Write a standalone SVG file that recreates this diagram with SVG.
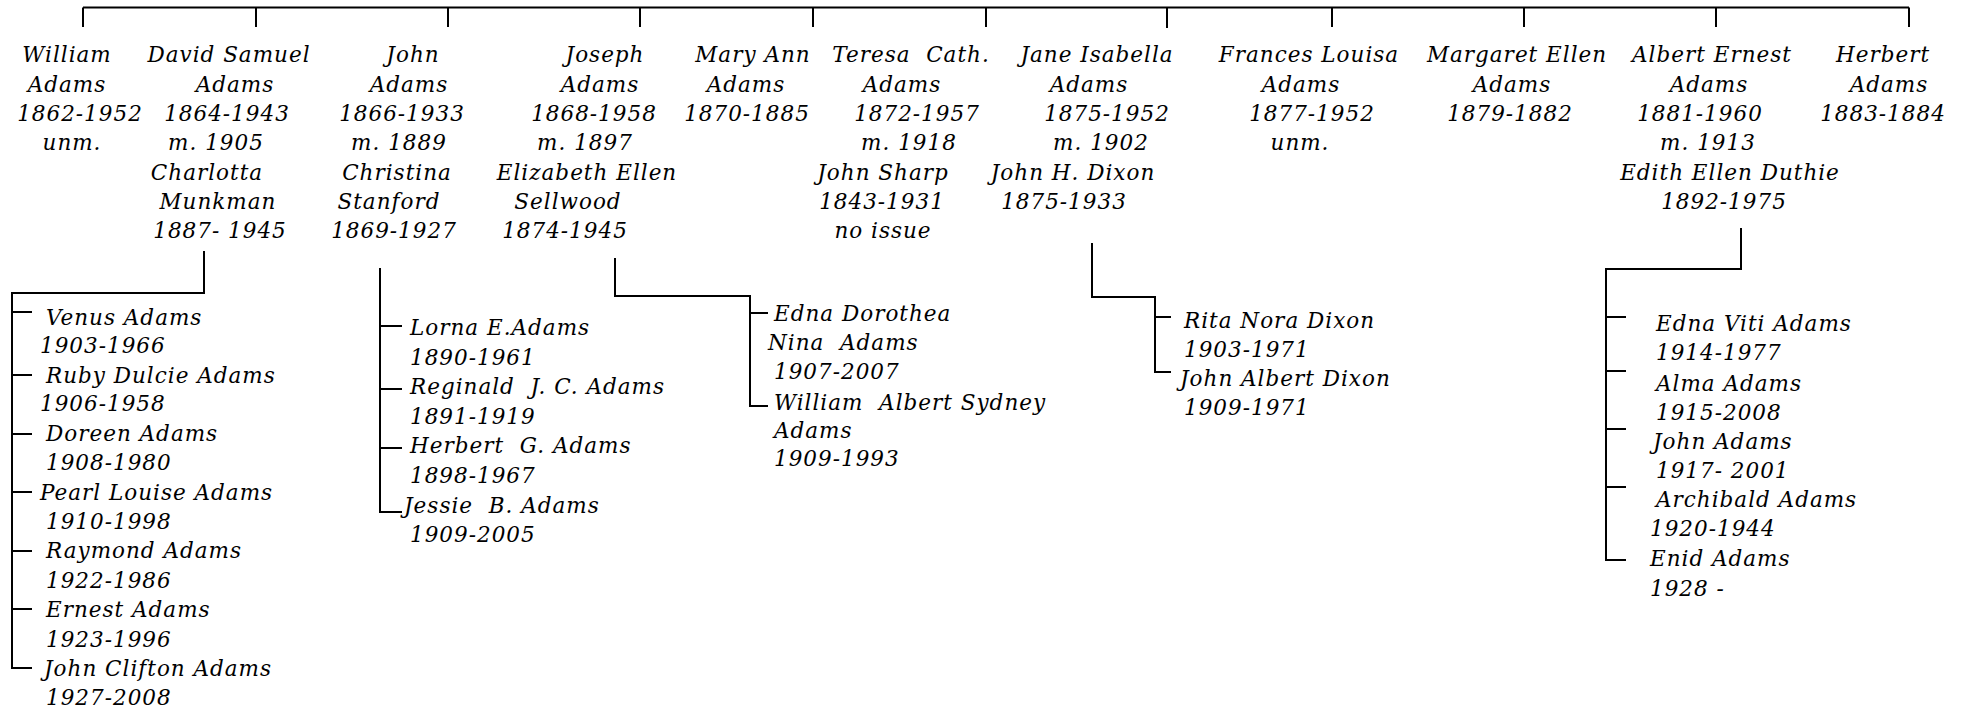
<svg xmlns="http://www.w3.org/2000/svg" width="1969" height="711" viewBox="0 0 1969 711">
<style>
text{font-family:"DejaVu Serif","Liberation Serif",serif;font-style:italic;font-size:21.5px;letter-spacing:1px;fill:#000;white-space:pre}
.c{text-anchor:middle}
.ln{fill:none;stroke:#000;stroke-width:2}
</style>
<rect width="1969" height="711" fill="#fff"/>
<g id="connectors" class="ln">
<path d="M83,7.5H1909M83,7.5V27M256,7.5V27M448,7.5V27M640,7.5V27M813,7.5V27M986,7.5V27M1167,7.5V28M1332,7.5V27M1524,7.5V27M1716,7.5V27M1909,7.5V27"/>
<path d="M204,251V293H12V668H32M12,312H32M12,375H32M12,434H32M12,492H32M12,551H32M12,609H32"/>
<path d="M380,268V512H402M380,326H402M380,389H402M380,448H402"/>
<path d="M615,258V296H750V406H768M750,313H768"/>
<path d="M1092,243V297H1155V372H1171M1155,317H1171"/>
<path d="M1741,228V269H1606V560H1626M1606,317H1626M1606,371H1626M1606,429H1626M1606,487H1626"/>
</g>
<g id="william">
<text class="c" x="67" y="62">William</text>
<text class="c" x="67" y="92">Adams</text>
<text class="c" x="80" y="121">1862-1952</text>
<text class="c" x="72" y="150">unm.</text>
</g>
<g id="david">
<text class="c" x="229" y="62">David Samuel</text>
<text class="c" x="235" y="92">Adams</text>
<text class="c" x="227" y="121">1864-1943</text>
<text class="c" x="216" y="150">m. 1905</text>
<text class="c" x="207" y="180">Charlotta</text>
<text class="c" x="218" y="209">Munkman</text>
<text class="c" x="220" y="238">1887- 1945</text>
</g>
<g id="john">
<text class="c" x="413" y="62">John</text>
<text class="c" x="409" y="92">Adams</text>
<text class="c" x="402" y="121">1866-1933</text>
<text class="c" x="399" y="150">m. 1889</text>
<text class="c" x="397" y="180">Christina</text>
<text class="c" x="389" y="209">Stanford</text>
<text class="c" x="394" y="238">1869-1927</text>
</g>
<g id="joseph">
<text class="c" x="605" y="62">Joseph</text>
<text class="c" x="600" y="92">Adams</text>
<text class="c" x="594" y="121">1868-1958</text>
<text class="c" x="585" y="150">m. 1897</text>
<text class="c" x="587" y="180">Elizabeth Ellen</text>
<text class="c" x="568" y="209">Sellwood</text>
<text class="c" x="565" y="238">1874-1945</text>
</g>
<g id="maryann">
<text class="c" x="753" y="62">Mary Ann</text>
<text class="c" x="746" y="92">Adams</text>
<text class="c" x="747" y="121">1870-1885</text>
</g>
<g id="teresa">
<text class="c" x="911" y="62">Teresa  Cath.</text>
<text class="c" x="902" y="92">Adams</text>
<text class="c" x="917" y="121">1872-1957</text>
<text class="c" x="909" y="150">m. 1918</text>
<text class="c" x="883" y="180">John Sharp</text>
<text class="c" x="882" y="209">1843-1931</text>
<text class="c" x="883" y="238">no issue</text>
</g>
<g id="jane">
<text class="c" x="1097" y="62">Jane Isabella</text>
<text class="c" x="1089" y="92">Adams</text>
<text class="c" x="1107" y="121">1875-1952</text>
<text class="c" x="1101" y="150">m. 1902</text>
<text class="c" x="1073" y="180">John H. Dixon</text>
<text class="c" x="1064" y="209">1875-1933</text>
</g>
<g id="frances">
<text class="c" x="1309" y="62">Frances Louisa</text>
<text class="c" x="1301" y="92">Adams</text>
<text class="c" x="1312" y="121">1877-1952</text>
<text class="c" x="1300" y="150">unm.</text>
</g>
<g id="margaret">
<text class="c" x="1517" y="62">Margaret Ellen</text>
<text class="c" x="1512" y="92">Adams</text>
<text class="c" x="1510" y="121">1879-1882</text>
</g>
<g id="albert">
<text class="c" x="1712" y="62">Albert Ernest</text>
<text class="c" x="1709" y="92">Adams</text>
<text class="c" x="1700" y="121">1881-1960</text>
<text class="c" x="1708" y="150">m. 1913</text>
<text class="c" x="1730" y="180">Edith Ellen Duthie</text>
<text class="c" x="1724" y="209">1892-1975</text>
</g>
<g id="herbert">
<text class="c" x="1883" y="62">Herbert</text>
<text class="c" x="1889" y="92">Adams</text>
<text class="c" x="1883" y="121">1883-1884</text>
</g>
<g id="david-children">
<text x="46" y="325">Venus Adams</text>
<text x="40" y="353">1903-1966</text>
<text x="46" y="383">Ruby Dulcie Adams</text>
<text x="40" y="411">1906-1958</text>
<text x="46" y="441">Doreen Adams</text>
<text x="46" y="470">1908-1980</text>
<text x="40" y="500">Pearl Louise Adams</text>
<text x="46" y="529">1910-1998</text>
<text x="46" y="558">Raymond Adams</text>
<text x="46" y="588">1922-1986</text>
<text x="46" y="617">Ernest Adams</text>
<text x="46" y="647">1923-1996</text>
<text x="44" y="676">John Clifton Adams</text>
<text x="46" y="705">1927-2008</text>
</g>
<g id="john-children">
<text x="410" y="335">Lorna E.Adams</text>
<text x="410" y="365">1890-1961</text>
<text x="410" y="394">Reginald  J. C. Adams</text>
<text x="410" y="424">1891-1919</text>
<text x="410" y="453">Herbert  G. Adams</text>
<text x="410" y="483">1898-1967</text>
<text x="404" y="513">Jessie  B. Adams</text>
<text x="410" y="542">1909-2005</text>
</g>
<g id="joseph-children">
<text x="774" y="321">Edna Dorothea</text>
<text x="768" y="350">Nina  Adams</text>
<text x="774" y="379">1907-2007</text>
<text x="774" y="410">William  Albert Sydney</text>
<text x="774" y="438">Adams</text>
<text x="774" y="466">1909-1993</text>
</g>
<g id="jane-children">
<text x="1184" y="328">Rita Nora Dixon</text>
<text x="1184" y="357">1903-1971</text>
<text x="1180" y="386">John Albert Dixon</text>
<text x="1184" y="415">1909-1971</text>
</g>
<g id="albert-children">
<text x="1656" y="331">Edna Viti Adams</text>
<text x="1656" y="360">1914-1977</text>
<text x="1656" y="391">Alma Adams</text>
<text x="1656" y="420">1915-2008</text>
<text x="1653" y="449">John Adams</text>
<text x="1656" y="478">1917- 2001</text>
<text x="1656" y="507">Archibald Adams</text>
<text x="1650" y="536">1920-1944</text>
<text x="1650" y="566">Enid Adams</text>
<text x="1650" y="596">1928 -</text>
</g>
</svg>
